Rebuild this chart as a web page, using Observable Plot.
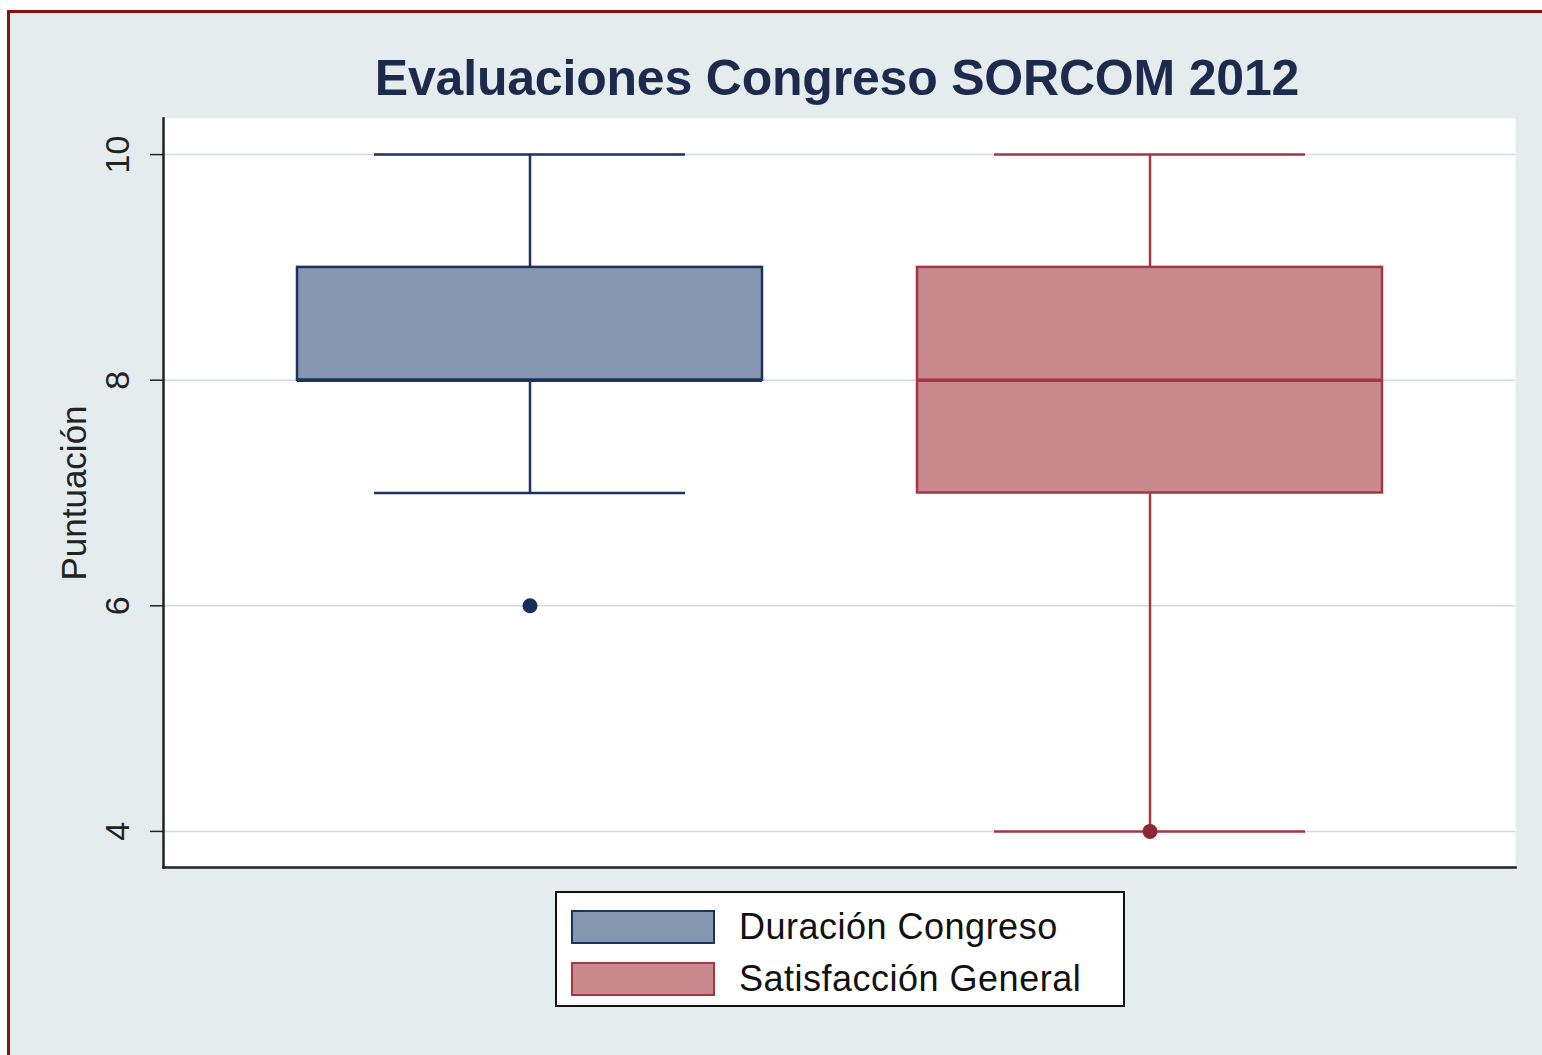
<!DOCTYPE html>
<html>
<head>
<meta charset="utf-8">
<script src="https://cdn.jsdelivr.net/npm/d3@7"></script>
<script src="https://cdn.jsdelivr.net/npm/@observablehq/plot@0.6"></script>
<style>
  html, body { margin: 0; padding: 0; background: #ffffff; }
  #page { position: relative; width: 1542px; height: 1055px; overflow: hidden; font-family: "Liberation Sans", Arial, sans-serif; }
  #bg { position: absolute; left: 7px; top: 10px; width: 1560px; height: 1080px; background: #e5ecee; border-left: 3px solid #8b1010; border-top: 3px solid #8b1010; box-sizing: border-box; }
  #chart { position: absolute; left: 0; top: 0; }
  #title { position: absolute; left: 0; width: 1674px; top: 49px; text-align: center; font-size: 50px; font-weight: bold; color: #1c2a4e; letter-spacing: -0.2px; }
  #legend { position: absolute; left: 555px; top: 891px; width: 570px; height: 116px; background: #fff; border: 2px solid #111; box-sizing: border-box; }
  .item { position: absolute; left: 14px; display: flex; align-items: center; font-size: 36px; letter-spacing: 0.5px; color: #111; }
  .sw { width: 144px; height: 34px; box-sizing: border-box; margin-right: 24px; }
</style>
</head>
<body>
<div id="page">
  <div id="bg"></div>
  <div id="chart"></div>
  <div id="title"></div>
  <div id="legend"></div>
</div>
<script>
// ---- data ----
const categories = ["Duración Congreso", "Satisfacción General"];
const lowerWhisker = [7, 4];
const q1 = [8, 7];
const median = [8, 8];
const q3 = [9, 9];
const upperWhisker = [10, 10];
const markerCategory = ["Duración Congreso", "Satisfacción General"];
const markerValue = [6, 4];
const yTicks = [4, 6, 8, 10];
const titleText = "Evaluaciones Congreso SORCOM 2012";
const yLabel = "Puntuación";
const fills = ["#8596b1", "#c8898f"];
const strokes = ["#1e3260", "#a63644"];

const boxes = categories.map((c, i) => ({
  cat: c, lo: lowerWhisker[i], q1: q1[i], med: median[i], q3: q3[i], hi: upperWhisker[i],
  fill: fills[i], stroke: strokes[i]
}));
const markers = markerCategory.map((c, i) => ({
  cat: c, value: markerValue[i], fill: c === categories[0] ? "#1a2d5a" : "#8e2633"
}));

const chart = Plot.plot({
  width: 1542,
  height: 1055,
  marginLeft: 163,
  marginRight: 27,
  marginTop: 118,
  marginBottom: 188,
  style: { background: "transparent", fontFamily: "'Liberation Sans', Arial, sans-serif" },
  x: { type: "band", domain: categories, paddingInner: 0.25, paddingOuter: 0.215, axis: null },
  y: { domain: [3.68, 10.32], axis: null },
  marks: [
    Plot.frame({ fill: "white", stroke: null }),
    Plot.gridY(yTicks, { stroke: "#cfdbe2", strokeOpacity: 1, strokeWidth: 1.5 }),
    Plot.axisY({ ticks: yTicks, tickSize: 13, tickFormat: () => "", label: null, stroke: "#222", strokeWidth: 1.5 }),
    Plot.text(yTicks, { y: d => d, text: d => String(d), frameAnchor: "left", textAnchor: "middle", lineAnchor: "middle", dx: -45, rotate: -90, fontSize: 34, fill: "#222" }),
    Plot.text([yLabel], { text: d => d, frameAnchor: "left", textAnchor: "middle", lineAnchor: "middle", dx: -89, rotate: -90, fontSize: 35, fill: "#222" }),
    Plot.frame({ anchor: "left", stroke: "#222", strokeWidth: 2.5 }),
    Plot.frame({ anchor: "bottom", stroke: "#222", strokeWidth: 2.5 }),
    // whiskers
    Plot.ruleX(boxes, { x: "cat", y1: "lo", y2: "q1", stroke: "stroke", strokeWidth: 2.5 }),
    Plot.ruleX(boxes, { x: "cat", y1: "q3", y2: "hi", stroke: "stroke", strokeWidth: 2.5 }),
    Plot.tickY(boxes, { x: "cat", y: "lo", stroke: "stroke", strokeWidth: 2.5, insetLeft: 77, insetRight: 77 }),
    Plot.tickY(boxes, { x: "cat", y: "hi", stroke: "stroke", strokeWidth: 2.5, insetLeft: 77, insetRight: 77 }),
    // boxes
    Plot.barY(boxes, { x: "cat", y1: "q1", y2: "q3", fill: "fill", stroke: "stroke", strokeWidth: 2.5 }),
    Plot.tickY(boxes, { x: "cat", y: "med", stroke: "stroke", strokeWidth: 3.5 }),
    // markers
    Plot.dot(markers, { x: "cat", y: "value", r: 7.5, fill: "fill", stroke: null })
  ]
});
document.getElementById("chart").appendChild(chart);
document.getElementById("title").textContent = titleText;

const legend = document.getElementById("legend");
categories.forEach((c, i) => {
  const item = document.createElement("div");
  item.className = "item";
  item.style.top = (i === 0 ? 13 : 65) + "px";
  const sw = document.createElement("div");
  sw.className = "sw";
  sw.style.background = fills[i];
  sw.style.border = "2px solid " + strokes[i];
  const t = document.createElement("span");
  t.textContent = c;
  item.appendChild(sw);
  item.appendChild(t);
  legend.appendChild(item);
});
</script>
</body>
</html>
